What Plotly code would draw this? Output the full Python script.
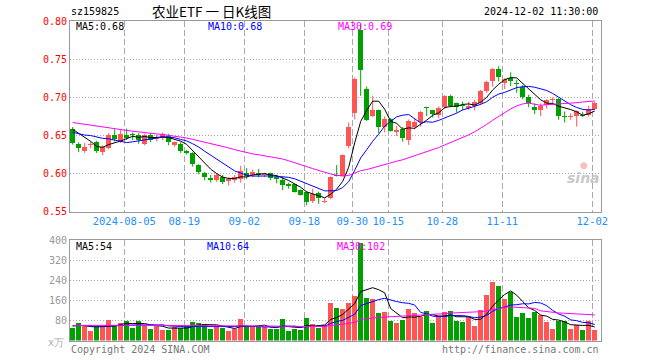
import numpy as np
import plotly.graph_objects as go

dates = ["2024-07-23","2024-07-24","2024-07-25","2024-07-26","2024-07-29","2024-07-30","2024-07-31",
         "2024-08-01","2024-08-02","2024-08-05","2024-08-06","2024-08-07","2024-08-08","2024-08-09",
         "2024-08-12","2024-08-13","2024-08-14","2024-08-15","2024-08-16","2024-08-19","2024-08-20",
         "2024-08-21","2024-08-22","2024-08-23","2024-08-26","2024-08-27","2024-08-28","2024-08-29",
         "2024-08-30","2024-09-02","2024-09-03","2024-09-04","2024-09-05","2024-09-06","2024-09-09",
         "2024-09-10","2024-09-11","2024-09-12","2024-09-13","2024-09-18","2024-09-19","2024-09-20",
         "2024-09-23","2024-09-24","2024-09-25","2024-09-26","2024-09-27","2024-09-30","2024-10-08",
         "2024-10-09","2024-10-10","2024-10-11","2024-10-14","2024-10-15","2024-10-16","2024-10-17",
         "2024-10-18","2024-10-21","2024-10-22","2024-10-23","2024-10-24","2024-10-25","2024-10-28",
         "2024-10-29","2024-10-30","2024-10-31","2024-11-01","2024-11-04","2024-11-05","2024-11-06",
         "2024-11-07","2024-11-08","2024-11-11","2024-11-12","2024-11-13","2024-11-14","2024-11-15",
         "2024-11-18","2024-11-19","2024-11-20","2024-11-21","2024-11-22","2024-11-25","2024-11-26",
         "2024-11-27","2024-11-28","2024-11-29","2024-12-02"]

open_ = [0.658,0.639,0.630,0.637,0.641,0.628,0.634,0.651,0.642,0.651,0.651,0.651,0.639,0.651,0.645,0.647,
         0.649,0.637,0.639,0.629,0.627,0.611,0.601,0.594,0.592,0.595,0.590,0.591,0.593,0.600,0.598,0.600,
         0.598,0.600,0.596,0.592,0.586,0.586,0.578,0.575,0.564,0.574,0.5625,0.568,0.5985,0.597,0.636,0.679,
         0.789,0.711,0.676,0.683,0.661,0.672,0.655,0.6585,0.644,0.661,0.668,0.687,0.683,0.677,0.687,0.702,
         0.692,0.690,0.686,0.689,0.692,0.7085,0.7215,0.7375,0.7185,0.725,0.7195,0.713,0.700,0.688,0.683,
         0.690,0.6965,0.698,0.675,0.674,0.675,0.6775,0.677,0.6845]
high = [0.661,0.641,0.640,0.642,0.643,0.637,0.653,0.658,0.658,0.659,0.654,0.653,0.652,0.653,0.651,0.654,
        0.652,0.642,0.641,0.631,0.628,0.612,0.602,0.598,0.600,0.598,0.595,0.598,0.610,0.607,0.605,0.606,
        0.601,0.601,0.598,0.596,0.588,0.587,0.579,0.577,0.580,0.576,0.568,0.596,0.611,0.625,0.667,0.726,
        0.797,0.714,0.702,0.684,0.675,0.673,0.6625,0.661,0.671,0.6725,0.682,0.6875,0.6835,0.688,0.703,0.7035,
        0.693,0.6945,0.6945,0.697,0.710,0.722,0.7385,0.741,0.725,0.733,0.723,0.7165,0.7035,0.692,0.692,
        0.6975,0.700,0.699,0.6815,0.679,0.683,0.681,0.689,0.6945]
low = [0.638,0.628,0.627,0.633,0.627,0.624,0.632,0.642,0.640,0.644,0.644,0.639,0.637,0.641,0.642,0.644,
       0.637,0.635,0.627,0.625,0.609,0.599,0.591,0.588,0.589,0.586,0.584,0.588,0.588,0.593,0.595,0.595,
       0.595,0.591,0.587,0.578,0.580,0.575,0.571,0.558,0.561,0.560,0.561,0.566,0.596,0.596,0.633,0.671,
       0.702,0.669,0.674,0.653,0.654,0.655,0.649,0.642,0.6375,0.658,0.6615,0.6755,0.6735,0.6725,0.6845,0.687,
       0.680,0.683,0.6835,0.683,0.690,0.706,0.714,0.721,0.711,0.715,0.706,0.6975,0.687,0.678,0.6755,
       0.6855,0.690,0.6705,0.667,0.6705,0.6615,0.674,0.675,0.6835]
close = [0.640,0.633,0.635,0.639,0.630,0.635,0.651,0.645,0.652,0.646,0.650,0.644,0.651,0.644,0.648,0.652,
         0.641,0.641,0.630,0.627,0.612,0.602,0.595,0.592,0.598,0.589,0.593,0.595,0.603,0.597,0.602,0.598,
         0.599,0.594,0.593,0.585,0.583,0.576,0.572,0.563,0.573,0.568,0.564,0.595,0.597,0.624,0.661,0.724,
         0.736,0.670,0.684,0.661,0.671,0.656,0.657,0.646,0.6695,0.668,0.681,0.686,0.678,0.6855,0.702,0.689,
         0.688,0.689,0.689,0.694,0.7085,0.720,0.7375,0.7265,0.724,0.722,0.718,0.701,0.693,0.683,0.689,
         0.6965,0.6985,0.675,0.674,0.676,0.6815,0.676,0.6845,0.692]
volume = [51,70,58,38,55,55,82,58,70,78,51,78,61,45,58,42,42,55,51,58,74,69,65,47,58,51,38,45,86,55,
          55,55,55,47,47,86,38,47,42,91,66,51,61,150,131,127,150,178,390,170,166,110,114,78,70,82,126,110,
          94,116,70,98,112,116,78,74,94,58,120,180,235,218,165,192,94,110,90,114,100,72,46,76,76,45,62,42,78,43]

# closes / volumes before the window (estimated from where the MA lines start)
prior_close = [0.668,0.672,0.675,0.678,0.680,0.677,0.674,0.676,0.679,0.681,0.678,0.675,0.672,0.670,0.673,
               0.671,0.669,0.668,0.670,0.664,0.655,0.648,0.646,0.650,0.651,0.658,0.663,0.665,0.664]
prior_volume = [62,58,66,55,60,64,59,57,63,61,58,66,60,55,63,62,59,64,57,61,60,58,63,66,55,57,62,59,60]

tick_dates = ["2024-08-05","2024-08-19","2024-09-02","2024-09-18","2024-09-30","2024-10-15",
              "2024-10-28","2024-11-11","2024-12-02"]
tick_text = ["2024-08-05","08-19","09-02","09-18","09-30","10-15","10-28","11-11","12-02"]
price_ticks = [0.55,0.60,0.65,0.70,0.75,0.80]
vol_ticks = [80,160,240,320,400]
price_ma_labels = ["MA5:0.68","MA10:0.68","MA30:0.69"]
vol_ma_labels = ["MA5:54","MA10:64","MA30:102"]

W, H = 660, 360
def fx(p): return p / W
def fy(p): return 1 - p / H

RED = "#FF5555"
GREEN = "#00A000"
MA_COLORS = ["#000000", "#0000FF", "#FF00FF"]
MONO = "DejaVu Sans Mono"

n = len(dates)
idx = np.arange(n)
o = np.array(open_); h = np.array(high); l = np.array(low); c = np.array(close)
v = np.array(volume, dtype=float)
up = c >= o

def ma(prior, data, k):
    full = np.concatenate([np.array(prior, dtype=float), np.asarray(data, dtype=float)])
    out = np.convolve(full, np.ones(k) / k, mode="valid")
    return out[-len(data):]

fig = go.Figure()

# wicks
for mask, col in [(up, RED), (~up, GREEN)]:
    xs, ys = [], []
    for i in idx[mask]:
        xs += [i, i, None]
        ys += [l[i], h[i], None]
    fig.add_trace(go.Scatter(x=xs, y=ys, mode="lines", line=dict(color=col, width=1),
                             hoverinfo="skip", showlegend=False, xaxis="x", yaxis="y"))
# bodies
body_base = np.minimum(o, c)
body_h = np.maximum(np.abs(c - o), 0.0013)
fig.add_trace(go.Bar(x=idx, y=body_h, base=body_base, width=0.8,
                     marker=dict(color=[RED if u else GREEN for u in up], line=dict(width=0)),
                     showlegend=False, xaxis="x", yaxis="y"))
for k, col in zip([5, 10, 30], MA_COLORS):
    fig.add_trace(go.Scatter(x=idx, y=ma(prior_close, c, k), mode="lines",
                             line=dict(color=col, width=1), showlegend=False, xaxis="x", yaxis="y"))

# volume
fig.add_trace(go.Bar(x=idx, y=v, width=0.8,
                     marker=dict(color=[RED if u else GREEN for u in up], line=dict(width=0)),
                     showlegend=False, xaxis="x2", yaxis="y2"))
for k, col in zip([5, 10, 30], MA_COLORS):
    fig.add_trace(go.Scatter(x=idx, y=ma(prior_volume, v, k), mode="lines",
                             line=dict(color=col, width=1), showlegend=False, xaxis="x2", yaxis="y2"))

tickpos = [dates.index(d) - 0.4 for d in tick_dates]
xr = [-0.45, n + 0.05]
common_x = dict(range=xr, tickvals=tickpos, showgrid=True, gridcolor="#AAAAAA", gridwidth=1,
                griddash="6px,3px", showline=True, mirror=True, linecolor="#999999", linewidth=1,
                ticks="", zeroline=False, domain=[fx(70), fx(601)], automargin=False)

fig.update_layout(
    width=W, height=H, margin=dict(l=0, r=0, t=0, b=0, autoexpand=False),
    paper_bgcolor="white", plot_bgcolor="white", barmode="overlay", bargap=0,
    font=dict(family=MONO, size=10, color="#000"),
    xaxis=dict(**common_x, anchor="y", ticktext=tick_text,
               tickfont=dict(color="#1E90FF", size=10.5, family=MONO)),
    yaxis=dict(domain=[fy(211.5), fy(21.3)], range=[0.55, 0.80], tickvals=price_ticks,
               ticktext=[f"{t:.2f}" for t in price_ticks], tickfont=dict(color="#FF0000", size=10, family=MONO),
               showgrid=True, gridcolor="#AAAAAA", griddash="1px,2px", showline=True, mirror=True,
               linecolor="#999999", linewidth=1, ticks="", zeroline=False, anchor="x", automargin=False),
    xaxis2=dict(**common_x, anchor="y2", showticklabels=False),
    yaxis2=dict(domain=[fy(340.5), fy(240.3)], range=[0, 400], tickvals=vol_ticks,
                ticktext=[str(t) for t in vol_ticks], tickfont=dict(color="#999999", size=10, family=MONO),
                showgrid=True, gridcolor="#AAAAAA", griddash="1px,2px", showline=True, mirror=True,
                linecolor="#999999", linewidth=1, ticks="", zeroline=False, anchor="x2", automargin=False),
)

def ann(text, x, y, xanchor="left", color="#000", size=10, family=MONO):
    fig.add_annotation(text=text, x=fx(x), y=fy(y), xref="paper", yref="paper", xanchor=xanchor,
                       yanchor="middle", showarrow=False, font=dict(color=color, size=size, family=family))

ann("sz159825", 69, 11)
ann("农业ETF 一 日K线图", 211, 11, xanchor="center", size=13.5, family="Noto Sans CJK SC")
ann("2024-12-02 11:30:00", 600, 11, xanchor="right")
for txt, xp, col in zip(price_ma_labels, [74, 206, 336], MA_COLORS):
    ann(txt, xp, 27, color=col)
for txt, xp, col in zip(vol_ma_labels, [74, 205, 335], MA_COLORS):
    ann(txt, xp, 246.5, color=col)
ann("x万", 66, 342, xanchor="right", color="#AAAAAA")
ann("Copyright 2024 SINA.COM", 69, 349, color="#777777")
ann("http://finance.sina.com.cn", 601, 349, xanchor="right", color="#777777")
ann("<b><i>sina</i></b>", 583, 178, xanchor="center", color="#C8C8C8", size=14, family="DejaVu Sans")
ann("●", 584, 165, xanchor="center", color="#F4C0C0", size=9, family="DejaVu Sans")

fig.write_html("out.html", config={"displayModeBar": False, "staticPlot": True},
               post_script="document.body.style.margin='0';")
